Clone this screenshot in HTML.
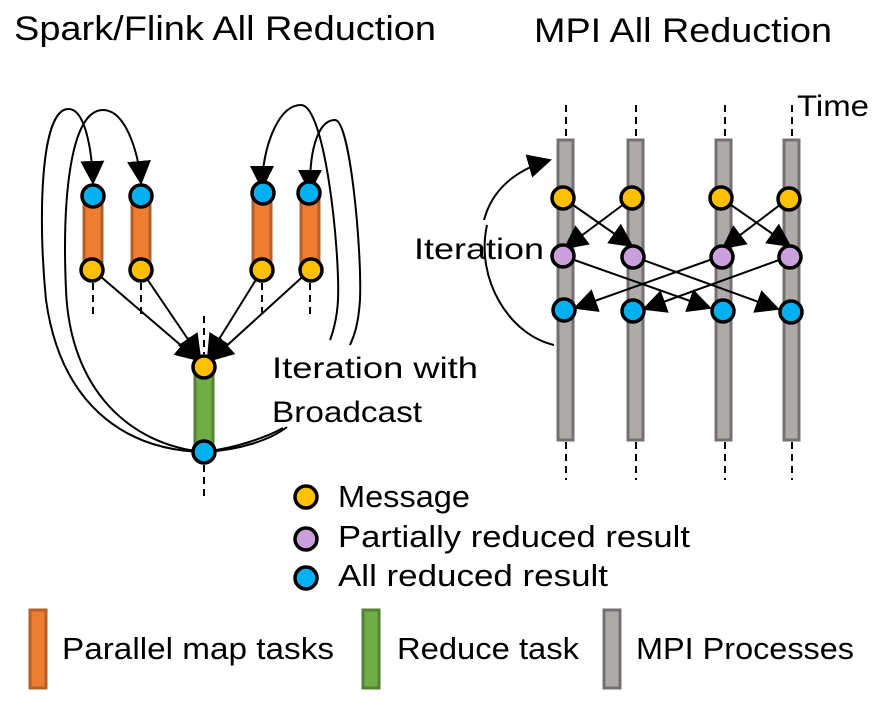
<!DOCTYPE html>
<html><head><style>body{margin:0;background:#fff}svg{display:block}text{font-family:"Liberation Sans",sans-serif;fill:#000}</style></head>
<body>
<svg width="888" height="722" viewBox="0 0 888 722" xmlns="http://www.w3.org/2000/svg">
<defs>
<marker id="b" viewBox="0 0 24 24" refX="22" refY="12" markerWidth="24" markerHeight="24" orient="auto" markerUnits="userSpaceOnUse"><path d="M0,0 L24,12 L0,24 z"/></marker>
</defs>
<text x="14" y="40" font-size="34" textLength="422" lengthAdjust="spacingAndGlyphs">Spark/Flink All Reduction</text>
<text x="534" y="42" font-size="34" textLength="298" lengthAdjust="spacingAndGlyphs">MPI All Reduction</text>

<!-- LEFT -->
<g stroke="#000" stroke-width="2" stroke-dasharray="7,5" fill="none">
<line x1="93" y1="283" x2="93" y2="318"/><line x1="141" y1="283" x2="141" y2="318"/>
<line x1="262" y1="283" x2="262" y2="318"/><line x1="310" y1="283" x2="310" y2="318"/>
<line x1="204" y1="316" x2="204" y2="354"/><line x1="204" y1="465" x2="204" y2="496"/>
</g>
<g fill="#ed7d31" stroke="#b5602a" stroke-width="3">
<rect x="84" y="196" width="18" height="74"/><rect x="132" y="196" width="18" height="74"/>
<rect x="253" y="196" width="18" height="74"/><rect x="301" y="196" width="18" height="74"/>
</g>
<rect x="195" y="367" width="18" height="85" fill="#70ad47" stroke="#548235" stroke-width="3"/>
<g stroke="#000" stroke-width="2" fill="none" marker-end="url(#b)">
<line x1="93" y1="270" x2="198" y2="360"/><line x1="141" y1="270" x2="200" y2="357"/>
<line x1="262" y1="270" x2="208" y2="357"/><line x1="310" y1="270" x2="211" y2="360"/>
<path d="M204,452 C120,450 60,400 46,300 C38,220 40,110 68,109 C85,108 92,150 93,183"/>
<path d="M204,452 C130,445 70,390 66,290 C62,200 70,110 103,110 C125,110 138,150 141,183"/>
<path d="M310,185 C310,150 318,120 335,120 C350,120 362,250 360,300 C358,330 352,340 350,345" marker-end="none"/>
<path d="M262,180 C265,140 280,105 301,105 C325,105 340,250 338,300 C337,320 332,335 330,340" marker-end="none"/>
<path d="M204,452 C240,450 270,440 287,427" marker-end="none"/>
<path d="M204,452 C235,448 265,438 283,428" marker-end="none"/>
</g>
<g><path d="M298,170 L322,170 L310,193 z"/><path d="M250,166 L274,166 L262,190 z"/></g>
<g stroke="#000" stroke-width="3.5">
<circle cx="93" cy="196" r="11" fill="#00b0f0"/><circle cx="141" cy="196" r="11" fill="#00b0f0"/>
<circle cx="263" cy="193" r="11" fill="#00b0f0"/><circle cx="309" cy="193" r="11" fill="#00b0f0"/>
<circle cx="92" cy="270" r="11" fill="#ffc000"/><circle cx="141" cy="270" r="11" fill="#ffc000"/>
<circle cx="262" cy="270" r="11" fill="#ffc000"/><circle cx="311" cy="270" r="11" fill="#ffc000"/>
<circle cx="204" cy="367" r="11" fill="#ffc000"/><circle cx="204" cy="452" r="11" fill="#00b0f0"/>
</g>
<text x="272" y="378" font-size="30" textLength="206" lengthAdjust="spacingAndGlyphs">Iteration with</text>
<text x="272" y="422" font-size="30" textLength="150" lengthAdjust="spacingAndGlyphs">Broadcast</text>

<!-- RIGHT -->
<g stroke="#000" stroke-width="2" stroke-dasharray="7,5">
<line x1="566" y1="105" x2="566" y2="139"/><line x1="636" y1="105" x2="636" y2="139"/>
<line x1="725" y1="105" x2="725" y2="139"/><line x1="792" y1="105" x2="792" y2="139"/>
<line x1="566" y1="442" x2="566" y2="480"/><line x1="636" y1="442" x2="636" y2="480"/>
<line x1="725" y1="442" x2="725" y2="480"/><line x1="792" y1="442" x2="792" y2="480"/>
</g>
<g fill="#aeaaaa" stroke="#767171" stroke-width="3">
<rect x="558" y="140" width="15" height="300"/><rect x="628" y="140" width="15" height="300"/>
<rect x="716" y="140" width="15" height="300"/><rect x="784" y="140" width="15" height="300"/>
</g>
<text x="797" y="116" font-size="30" textLength="72" lengthAdjust="spacingAndGlyphs">Time</text>
<text x="414" y="259" font-size="30" textLength="130" lengthAdjust="spacingAndGlyphs">Iteration</text>
<g stroke="#000" stroke-width="2" fill="none" marker-end="url(#b)">
<path d="M554,345 C510,335 475,280 487,225" marker-end="none"/>
<path d="M484,220 C492,190 515,170 550,160"/>
<line x1="563" y1="198" x2="632" y2="246"/><line x1="632" y1="198" x2="565" y2="248"/>
<line x1="721" y1="198" x2="790" y2="246"/><line x1="789" y1="198" x2="723" y2="248"/>
<line x1="563" y1="256" x2="710" y2="308"/><line x1="632" y1="256" x2="778" y2="309"/>
<line x1="721" y1="256" x2="575" y2="308"/><line x1="790" y1="256" x2="644" y2="309"/>
</g>
<g stroke="#000" stroke-width="3.5">
<circle cx="563" cy="198" r="11" fill="#ffc000"/><circle cx="632" cy="198" r="11" fill="#ffc000"/>
<circle cx="721" cy="198" r="11" fill="#ffc000"/><circle cx="789" cy="199" r="11" fill="#ffc000"/>
<circle cx="563" cy="256" r="11" fill="#c9a0dc"/><circle cx="633" cy="257" r="11" fill="#c9a0dc"/>
<circle cx="722" cy="257" r="11" fill="#c9a0dc"/><circle cx="790" cy="257" r="11" fill="#c9a0dc"/>
<circle cx="564" cy="310" r="11" fill="#00b0f0"/><circle cx="633" cy="311" r="11" fill="#00b0f0"/>
<circle cx="723" cy="311" r="11" fill="#00b0f0"/><circle cx="791" cy="312" r="11" fill="#00b0f0"/>
</g>

<!-- LEGEND -->
<g stroke="#000" stroke-width="3.5">
<circle cx="306" cy="497" r="11" fill="#ffc000"/><circle cx="306" cy="539" r="11" fill="#c9a0dc"/><circle cx="306" cy="578" r="11" fill="#00b0f0"/>
</g>
<text x="338" y="507" font-size="31" textLength="132" lengthAdjust="spacingAndGlyphs">Message</text>
<text x="338" y="547" font-size="31" textLength="352" lengthAdjust="spacingAndGlyphs">Partially reduced result</text>
<text x="338" y="586" font-size="31" textLength="270" lengthAdjust="spacingAndGlyphs">All reduced result</text>
<rect x="30" y="610" width="16" height="78" fill="#ed7d31" stroke="#b5602a" stroke-width="3"/>
<rect x="363" y="610" width="16" height="78" fill="#70ad47" stroke="#548235" stroke-width="3"/>
<rect x="604" y="610" width="16" height="78" fill="#aeaaaa" stroke="#767171" stroke-width="3"/>
<text x="62" y="659" font-size="31" textLength="272" lengthAdjust="spacingAndGlyphs">Parallel map tasks</text>
<text x="397" y="659" font-size="31" textLength="182" lengthAdjust="spacingAndGlyphs">Reduce task</text>
<text x="636" y="659" font-size="31" textLength="218" lengthAdjust="spacingAndGlyphs">MPI Processes</text>
</svg>
</body></html>
